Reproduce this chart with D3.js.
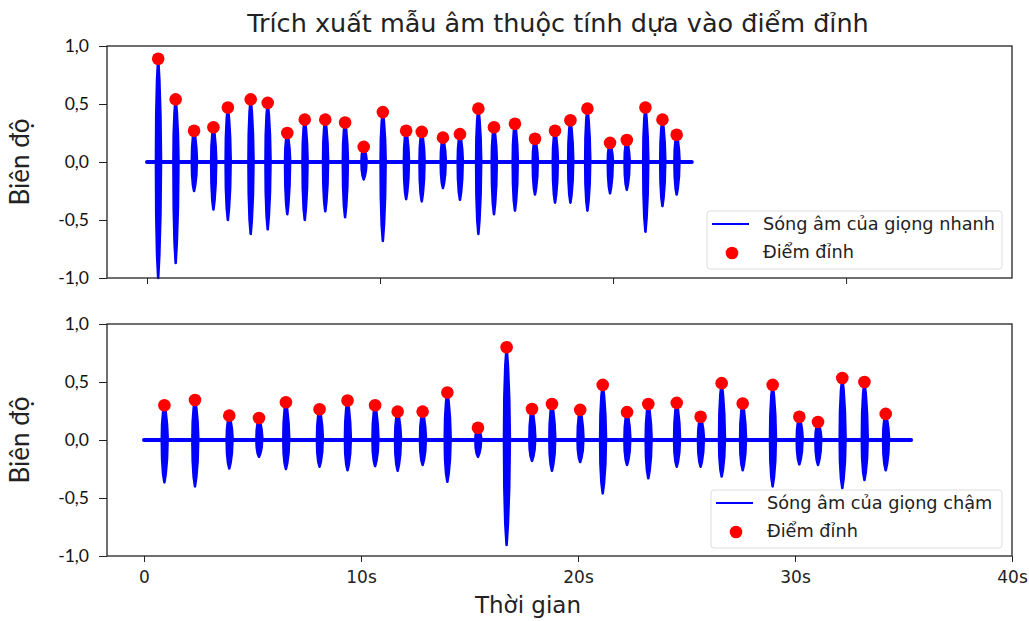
<!DOCTYPE html>
<html>
<head>
<meta charset="utf-8">
<script src="https://cdn.jsdelivr.net/npm/d3@7"></script>
<style>
  body { margin: 0; background: #fff; }
  svg { display: block; }
</style>
</head>
<body>
<div id="chart"></div>
<script>
// fast voice: time of each burst (s), its highest peak and its lowest trough
var fastTimes   = [0.48, 1.23, 2.02, 2.85, 3.47, 4.45, 5.18, 6.02, 6.77, 7.65, 8.5, 9.3, 10.12, 11.12, 11.79,
                   12.7, 13.43, 14.22, 14.89, 15.79, 16.65, 17.51, 18.17, 18.9, 19.87, 20.59, 21.39, 22.12, 22.73];
var fastPeaks   = [0.89, 0.54, 0.27, 0.30, 0.47, 0.54, 0.51, 0.25, 0.365, 0.365, 0.34, 0.13, 0.43, 0.27, 0.26,
                   0.21, 0.24, 0.46, 0.30, 0.33, 0.20, 0.27, 0.36, 0.46, 0.165, 0.19, 0.47, 0.365, 0.235];
var fastTroughs = [-1.0, -0.87, -0.25, -0.41, -0.50, -0.62, -0.58, -0.45, -0.50, -0.425, -0.475, -0.15, -0.68, -0.32, -0.34,
                   -0.225, -0.325, -0.62, -0.45, -0.42, -0.28, -0.35, -0.35, -0.42, -0.27, -0.24, -0.60, -0.38, -0.28];
var fastSpan = [0, 23.38];

// slow voice
var slowTimes   = [0.94, 2.35, 3.93, 5.30, 6.54, 8.09, 9.38, 10.65, 11.69, 12.84, 13.98, 15.39, 16.71, 17.88, 18.8,
                   20.1, 21.14, 22.26, 23.24, 24.55, 25.65, 26.62, 27.59, 28.97, 30.2, 31.06, 32.18, 33.2, 34.18];
var slowPeaks   = [0.30, 0.345, 0.21, 0.19, 0.325, 0.265, 0.34, 0.30, 0.245, 0.245, 0.41, 0.105, 0.80, 0.267, 0.31,
                   0.26, 0.475, 0.24, 0.31, 0.32, 0.20, 0.49, 0.315, 0.475, 0.20, 0.155, 0.535, 0.50, 0.225];
var slowTroughs = [-0.365, -0.40, -0.245, -0.145, -0.25, -0.23, -0.26, -0.225, -0.265, -0.215, -0.36, -0.145, -0.905, -0.18, -0.265,
                   -0.19, -0.46, -0.215, -0.33, -0.23, -0.23, -0.315, -0.26, -0.40, -0.21, -0.215, -0.415, -0.345, -0.26];
var slowSpan = [0, 35.35];

var yTicks = [-1, -0.5, 0, 0.5, 1];
var xTicks = [0, 10, 20, 30, 40];
var xTickLabels = ["0", "10s", "20s", "30s", "40s"];

var W = 1029, H = 621;
var svg = d3.select("#chart").append("svg").attr("width", W).attr("height", H);

var left = 107, right = 1012;
var panels = [
  { top: 46, bottom: 278, times: fastTimes, peaks: fastPeaks, troughs: fastTroughs, span: fastSpan,
    xdom: [-1.717, 37.12], ticks: [0, 10, 20, 30], labels: false, bw: 0.24,
    legend: "Sóng âm của giọng nhanh", lx: 707, ly: 211, lw: 295 },
  { top: 324, bottom: 556, times: slowTimes, peaks: slowPeaks, troughs: slowTroughs, span: slowSpan,
    xdom: [-1.705, 40], ticks: xTicks, labels: true, bw: 0.3,
    legend: "Sóng âm của giọng chậm", lx: 711, ly: 490, lw: 291 }
];

var fmt = function(d) { return d3.format(".1f")(d).replace(".", ",").replace("−", "-"); };

panels.forEach(function(p) {
  var x = d3.scaleLinear().domain(p.xdom).range([left, right]);
  var y = d3.scaleLinear().domain([-1, 1]).range([p.bottom, p.top]);
  var g = svg.append("g");

  // baseline of the wave
  g.append("line")
    .attr("x1", x(p.span[0])).attr("x2", x(p.span[1]))
    .attr("y1", y(0)).attr("y2", y(0))
    .attr("stroke", "blue").attr("stroke-width", 4).attr("stroke-linecap", "round");

  // each burst drawn as an envelope between its peak and trough
  p.times.forEach(function(t, i) {
    var pk = p.peaks[i], tr = p.troughs[i], w = p.bw;
    var pts = [
      [t, pk], [t + w * 0.2, pk * 0.8], [t + w * 0.4, pk * 0.45], [t + w * 0.5, 0.02],
      [t + w * 0.4, tr * 0.45], [t + w * 0.2, tr * 0.8], [t, tr],
      [t - w * 0.2, tr * 0.8], [t - w * 0.35, tr * 0.45], [t - w * 0.4, 0],
      [t - w * 0.35, pk * 0.45], [t - w * 0.2, pk * 0.8]
    ];
    g.append("path")
      .attr("d", d3.line().x(function(d) { return x(d[0]); }).y(function(d) { return y(d[1]); })(pts) + "Z")
      .attr("fill", "blue").attr("stroke", "blue")
      .attr("stroke-width", 2.6).attr("stroke-linejoin", "round");
  });

  g.selectAll("circle.peak").data(p.times).enter().append("circle")
    .attr("class", "peak")
    .attr("cx", function(d) { return x(d); })
    .attr("cy", function(d, i) { return y(p.peaks[i]); })
    .attr("r", 6.3).attr("fill", "red");

  // frame
  g.append("rect")
    .attr("x", left).attr("y", p.top).attr("width", right - left).attr("height", p.bottom - p.top)
    .attr("fill", "none").attr("stroke", "#222").attr("stroke-width", 1.3);

  var ya = d3.axisLeft(y).tickValues(yTicks).tickSize(8).tickPadding(10).tickFormat(fmt);
  var yg = g.append("g").attr("transform", "translate(" + left + ",0)").call(ya);
  yg.select(".domain").remove();
  yg.selectAll("line").attr("stroke", "#222");
  yg.selectAll("text").attr("font-family", "Lato, sans-serif").attr("font-size", 17.5).attr("fill", "#111");

  var xa = d3.axisBottom(x).tickValues(p.ticks).tickSize(6).tickPadding(9)
    .tickFormat(function(d) { return p.labels ? xTickLabels[xTicks.indexOf(d)] : ""; });
  var xg = g.append("g").attr("transform", "translate(0," + p.bottom + ")").call(xa);
  xg.select(".domain").remove();
  xg.selectAll("line").attr("stroke", "#222");
  xg.selectAll("text").attr("font-family", "DejaVu Sans, sans-serif").attr("font-size", 17).attr("fill", "#222");

  g.append("text")
    .attr("transform", "translate(29," + ((p.top + p.bottom) / 2) + ") rotate(-90)")
    .attr("text-anchor", "middle").attr("font-family", "Lato, sans-serif")
    .attr("font-size", 26).attr("fill", "#222").text("Biên độ");

  // legend
  var lg = g.append("g").attr("transform", "translate(" + p.lx + "," + p.ly + ")");
  lg.append("rect").attr("width", p.lw).attr("height", 58).attr("rx", 3)
    .attr("fill", "#fff").attr("fill-opacity", 0.8).attr("stroke", "#ddd");
  lg.append("line").attr("x1", 5).attr("x2", 42).attr("y1", 13).attr("y2", 13)
    .attr("stroke", "blue").attr("stroke-width", 2);
  lg.append("circle").attr("cx", 25).attr("cy", 42).attr("r", 6.3).attr("fill", "red");
  lg.append("text").attr("x", 56).attr("y", 19).attr("font-family", "DejaVu Sans, sans-serif")
    .attr("font-size", 17.7).attr("fill", "#222").text(p.legend);
  lg.append("text").attr("x", 56).attr("y", 47).attr("font-family", "DejaVu Sans, sans-serif")
    .attr("font-size", 17.7).attr("fill", "#222").text("Điểm đỉnh");
});

svg.append("text").attr("x", 558).attr("y", 32).attr("text-anchor", "middle")
  .attr("font-family", "DejaVu Sans, sans-serif").attr("font-size", 25.5).attr("fill", "#222")
  .text("Trích xuất mẫu âm thuộc tính dựa vào điểm đỉnh");

svg.append("text").attr("x", 528).attr("y", 613).attr("text-anchor", "middle")
  .attr("font-family", "DejaVu Sans, sans-serif").attr("font-size", 23).attr("fill", "#222")
  .text("Thời gian");
</script>
</body>
</html>
